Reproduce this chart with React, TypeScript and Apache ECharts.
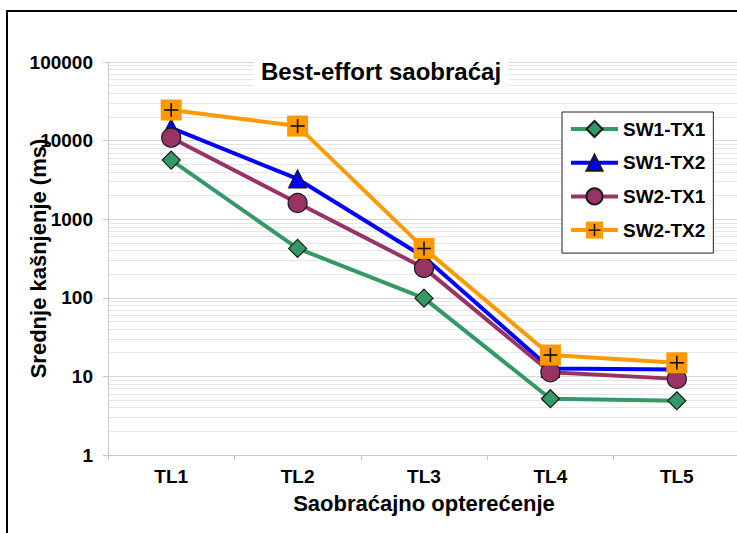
import React, { useEffect, useRef } from "react";
import * as echarts from "echarts";

const categories = ["TL1", "TL2", "TL3", "TL4", "TL5"];
const sw1tx1 = [5650, 425, 99, 5.2, 4.9];
const sw1tx2 = [14500, 3250, 330, 12.6, 12.2];
const sw2tx1 = [10900, 1610, 240, 11.3, 9.3];
const sw2tx2 = [24500, 15300, 425, 18.7, 14.9];
const seriesNames = ["SW1-TX1", "SW1-TX2", "SW2-TX1", "SW2-TX2"];
const majorTicks = [1, 10, 100, 1000, 10000, 100000];
const minorMultipliers = [2, 3, 4, 5, 6, 7, 8, 9];

const FONT = "'Liberation Sans', Arial, sans-serif";

export default function App() {
  const ref = useRef<HTMLDivElement>(null);
  useEffect(() => {
    if (!ref.current) return;
    const chart = echarts.init(ref.current, undefined, { renderer: "svg" });
    const minorValues: number[] = [];
    majorTicks.slice(0, -1).forEach((t) => minorMultipliers.forEach((m) => minorValues.push(t * m)));

    const legendSvg =
      '<svg xmlns="http://www.w3.org/2000/svg" width="47" height="20" viewBox="0 0 47 20">' +
      '<line x1="0" y1="10" x2="47" y2="10" stroke="#FF9900" stroke-width="4"/>' +
      '<rect x="15" y="1.5" width="17" height="17" fill="#FF9900"/>' +
      '<path d="M23.5 4 V16 M17.5 10 H29.5" stroke="#000" stroke-width="1.4"/>' +
      "</svg>";
    const legendIcon = "image://data:image/svg+xml;charset=utf-8," + encodeURIComponent(legendSvg);

    const baseText = { fontFamily: FONT, fontWeight: "bold" as const, color: "#000" };

    chart.setOption({
      animation: false,
      backgroundColor: "#fff",
      title: {
        text: "Best-effort saobraćaj",
        left: 254,
        top: 55,
        padding: [4, 7],
        backgroundColor: "#fff",
        textStyle: { ...baseText, fontSize: 24 },
      },
      legend: {
        left: 562,
        top: 112,
        orient: "vertical",
        backgroundColor: "#fff",
        borderColor: "#222",
        borderWidth: 1,
        padding: [7, 8, 13, 7],
        itemWidth: 47,
        itemHeight: 20,
        itemGap: 13.7,
        lineStyle: { width: 4 },
        textStyle: { ...baseText, fontSize: 19, lineHeight: 20 },
        data: [
          { name: seriesNames[0] },
          { name: seriesNames[1] },
          { name: seriesNames[2] },
          { name: seriesNames[3], icon: legendIcon },
        ],
      },
      grid: { left: 108, top: 62, width: 632, height: 393, containLabel: false, outerBoundsMode: "none" },
      xAxis: {
        type: "category",
        data: categories,
        boundaryGap: true,
        name: "Saobraćajno opterećenje",
        nameLocation: "middle",
        nameGap: 37,
        nameMoveOverlap: false,
        nameTextStyle: { ...baseText, fontSize: 22 },
        axisLine: { lineStyle: { color: "#c8c8c8", width: 1 } },
        axisTick: { show: true, length: 5, lineStyle: { color: "#c8c8c8" } },
        axisLabel: { ...baseText, fontSize: 19, margin: 12 },
        splitLine: { show: false },
      },
      yAxis: {
        type: "log",
        logBase: 10,
        min: 1,
        max: 100000,
        name: "Srednje kašnjenje (ms)",
        nameLocation: "middle",
        nameGap: 59,
        nameMoveOverlap: false,
        nameTextStyle: { ...baseText, fontSize: 22 },
        axisLine: { show: true, lineStyle: { color: "#c8c8c8", width: 1 } },
        axisTick: { show: true, length: 5, lineStyle: { color: "#c8c8c8" } },
        axisLabel: { ...baseText, fontSize: 19, margin: 15, formatter: (v: number) => String(Math.round(v)) },
        splitLine: { show: true, lineStyle: { color: "#d6d6d6", width: 1 } },
      },
      graphic: [
        {
          type: "rect",
          shape: { x: 7, y: 11, width: 800, height: 600 },
          style: { fill: "none", stroke: "#000", lineWidth: 2 },
          z: 100,
          silent: true,
        },
      ],
      series: [
        {
          name: "minor-grid",
          type: "line",
          data: [],
          z: 0,
          silent: true,
          markLine: {
            z: 0,
            silent: true,
            symbol: ["none", "none"],
            label: { show: false },
            lineStyle: { color: "#e6e6e6", width: 1, type: "solid" },
            data: minorValues.map((v) => ({ yAxis: v })),
          },
        },
        {
          name: seriesNames[0],
          type: "line",
          data: sw1tx1,
          symbol: "diamond",
          symbolSize: 18,
          lineStyle: { color: "#339966", width: 4 },
          itemStyle: { color: "#339966", borderColor: "#1a1a1a", borderWidth: 1.2 },
        },
        {
          name: seriesNames[1],
          type: "line",
          data: sw1tx2,
          symbol: "triangle",
          symbolSize: 18,
          lineStyle: { color: "#0000FF", width: 4 },
          itemStyle: { color: "#0000FF", borderColor: "#1a1a1a", borderWidth: 1.2 },
        },
        {
          name: seriesNames[2],
          type: "line",
          data: sw2tx1,
          symbol: "circle",
          symbolSize: 19,
          lineStyle: { color: "#993366", width: 4 },
          itemStyle: { color: "#993366", borderColor: "#1a1a1a", borderWidth: 1.2 },
        },
        {
          name: seriesNames[3],
          type: "line",
          data: sw2tx2,
          symbol: "rect",
          symbolSize: 21,
          lineStyle: { color: "#FF9900", width: 4 },
          itemStyle: { color: "#FF9900", borderWidth: 0 },
        },
        {
          name: "sw2tx2-plus",
          type: "line",
          data: sw2tx2,
          symbol: "path://M5,0 L5,10 M0,5 L10,5",
          symbolSize: 14,
          lineStyle: { opacity: 0, width: 0 },
          itemStyle: { color: "none", borderColor: "#000", borderWidth: 1.5 },
          z: 3,
          silent: true,
        },
      ],
    });
    return () => chart.dispose();
  }, []);
  return (
    <div
      ref={ref}
      style={{ position: "fixed", left: 0, top: 0, width: 737, height: 533 }}
    />
  );
}
